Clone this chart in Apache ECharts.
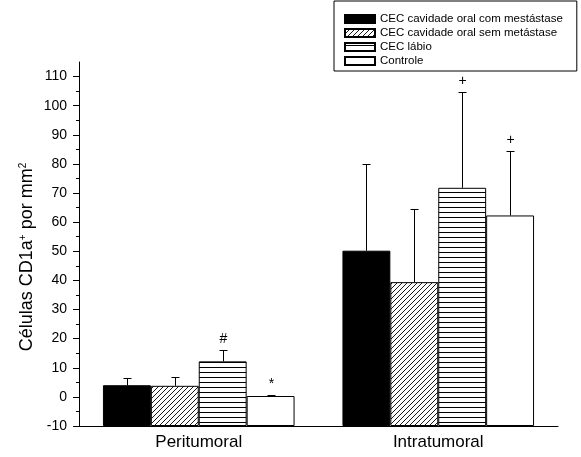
<!DOCTYPE html>
<html>
<head>
<meta charset="utf-8">
<script src="https://cdn.jsdelivr.net/npm/echarts@6/dist/echarts.min.js"></script>
<style>html,body{margin:0;padding:0;background:#fff;}#c{width:581px;height:457px;}</style>
</head>
<body>
<div id="c"></div>
<script>
const categories = ['Peritumoral', 'Intratumoral'];
const seriesNames = ['CEC cavidade oral com mestástase', 'CEC cavidade oral sem metástase', 'CEC lábio', 'Controle'];
const meanComMetastase = [4.0, 50.2];
const meanSemMetastase = [3.8, 39.4];
const meanLabio = [12.2, 71.8];
const meanControle = [0.3, 62.3];
const upperComMetastase = [6.4, 79.9];
const upperSemMetastase = [6.7, 64.4];
const upperLabio = [16.1, 104.6];
const upperControle = [0.7, 84.6];
const markComMetastase = ['', ''];
const markSemMetastase = ['', ''];
const markLabio = ['#', '+'];
const markControle = ['*', '+'];
const yTicks = [-10, 0, 10, 20, 30, 40, 50, 60, 70, 80, 90, 100, 110];

const FONT = 'Liberation Sans, Arial, sans-serif';

function makeDiag() {
  const c = document.createElement('canvas'); c.width = 5; c.height = 5;
  const x = c.getContext('2d'); x.fillStyle = '#fff'; x.fillRect(0,0,5,5);
  x.strokeStyle = '#000'; x.lineWidth = 0.9;
  x.beginPath(); x.moveTo(-1,6); x.lineTo(6,-1); x.moveTo(-1,1); x.lineTo(1,-1); x.moveTo(4,6); x.lineTo(6,4); x.stroke();
  return c;
}
function makeHoriz() {
  const c = document.createElement('canvas'); c.width = 5; c.height = 5;
  const x = c.getContext('2d'); x.fillStyle = '#fff'; x.fillRect(0,0,5,5);
  x.fillStyle = '#000'; x.fillRect(0,2,5,1);
  return c;
}
const fills = ['#000', {image: makeDiag(), repeat: 'repeat'}, {image: makeHoriz(), repeat: 'repeat'}, '#fff'];
const means = [meanComMetastase, meanSemMetastase, meanLabio, meanControle];
const uppers = [upperComMetastase, upperSemMetastase, upperLabio, upperControle];
const marks = [markComMetastase, markSemMetastase, markLabio, markControle];

const series = [];
seriesNames.forEach((n, i) => {
  series.push({
    name: n, type: 'bar', xAxisIndex: 0, yAxisIndex: 0,
    barGap: '0%', barCategoryGap: '20%',
    itemStyle: {color: fills[i], borderColor: '#000', borderWidth: 1},
    emphasis: {disabled: true},
    data: means[i]
  });
});
seriesNames.forEach((n, i) => {
  series.push({
    type: 'custom', xAxisIndex: 0, yAxisIndex: 0, silent: true, z: 5,
    data: categories.map((c, k) => [k, means[i][k], uppers[i][k], marks[i][k]]),
    renderItem: function (params, api) {
      const k = api.value(0);
      const center = api.coord([k, 0])[0];
      const band = api.size([1, 0])[0];
      const bw = band * 0.8 / 4;
      const x = Math.round(center + (i - 1.5) * bw) + 0.5;
      const y0 = api.coord([k, api.value(1)])[1];
      const y1 = Math.round(api.coord([k, api.value(2)])[1]) + 0.5;
      const mark = marks[i][k];
      const children = [
        {type: 'line', shape: {x1: x, y1: y0, x2: x, y2: y1}, style: {stroke: '#000', lineWidth: 1}},
        {type: 'line', shape: {x1: x - 4, y1: y1, x2: x + 4, y2: y1}, style: {stroke: '#000', lineWidth: 1}}
      ];
      if (mark) {
        children.push({type: 'text', style: {text: mark, x: x, y: y1 - 11, align: 'center', verticalAlign: 'middle', fontSize: 14, fontFamily: FONT, fill: '#000'}});
      }
      return {type: 'group', children: children};
    }
  });
});

const chart = echarts.init(document.getElementById('c'), null, {renderer: 'canvas'});
chart.setOption({
  animation: false,
  backgroundColor: '#fff',
  legend: {
    data: seriesNames, orient: 'vertical', left: 334, top: 1,
    borderColor: '#000', borderWidth: 1, padding: [11, 14, 3, 10],
    itemWidth: 30, itemHeight: 8, itemGap: 0, icon: 'rect',
    textStyle: {fontSize: 11.5, fontFamily: FONT, color: '#000', lineHeight: 14},
    selectedMode: false
  },
  grid: {left: 79, right: 23, top: 62, bottom: 31, containLabel: false},
  xAxis: [{
    type: 'category', data: categories, boundaryGap: true,
    axisLine: {onZero: false, lineStyle: {color: '#000', width: 1}},
    axisTick: {alignWithLabel: true, length: 6, lineStyle: {color: '#000'}},
    axisLabel: {fontSize: 17, fontFamily: FONT, color: '#000', margin: 8}
  }, {
    type: 'category', data: categories, boundaryGap: true, position: 'bottom',
    axisLine: {show: false, onZero: false},
    axisTick: {length: 4, lineStyle: {color: '#000'}},
    axisLabel: {show: false}
  }],
  yAxis: [{
    type: 'value', min: -10, max: 115, interval: 10, startValue: -10,
    splitLine: {show: false},
    axisLine: {show: true, lineStyle: {color: '#000', width: 1}},
    axisTick: {show: true, length: 6, lineStyle: {color: '#000'}, customValues: yTicks},
    minorTick: {show: true, splitNumber: 2, length: 3, lineStyle: {color: '#000'}},
    axisLabel: {fontSize: 14, fontFamily: FONT, color: '#000', margin: 12, customValues: yTicks},
    name: '{m|Células CD1a}{s|+}{m| por mm}{s|2}',
    nameLocation: 'middle', nameGap: 43, nameRotate: 90, nameMoveOverlap: false,
    nameTextStyle: {padding: [0, 26, 0, 0], rich: {
      m: {fontSize: 18, fontFamily: FONT, color: '#000'},
      s: {fontSize: 10, fontFamily: FONT, color: '#000', verticalAlign: 'top'}
    }}
  }],
  series: series
});
</script>
</body>
</html>
